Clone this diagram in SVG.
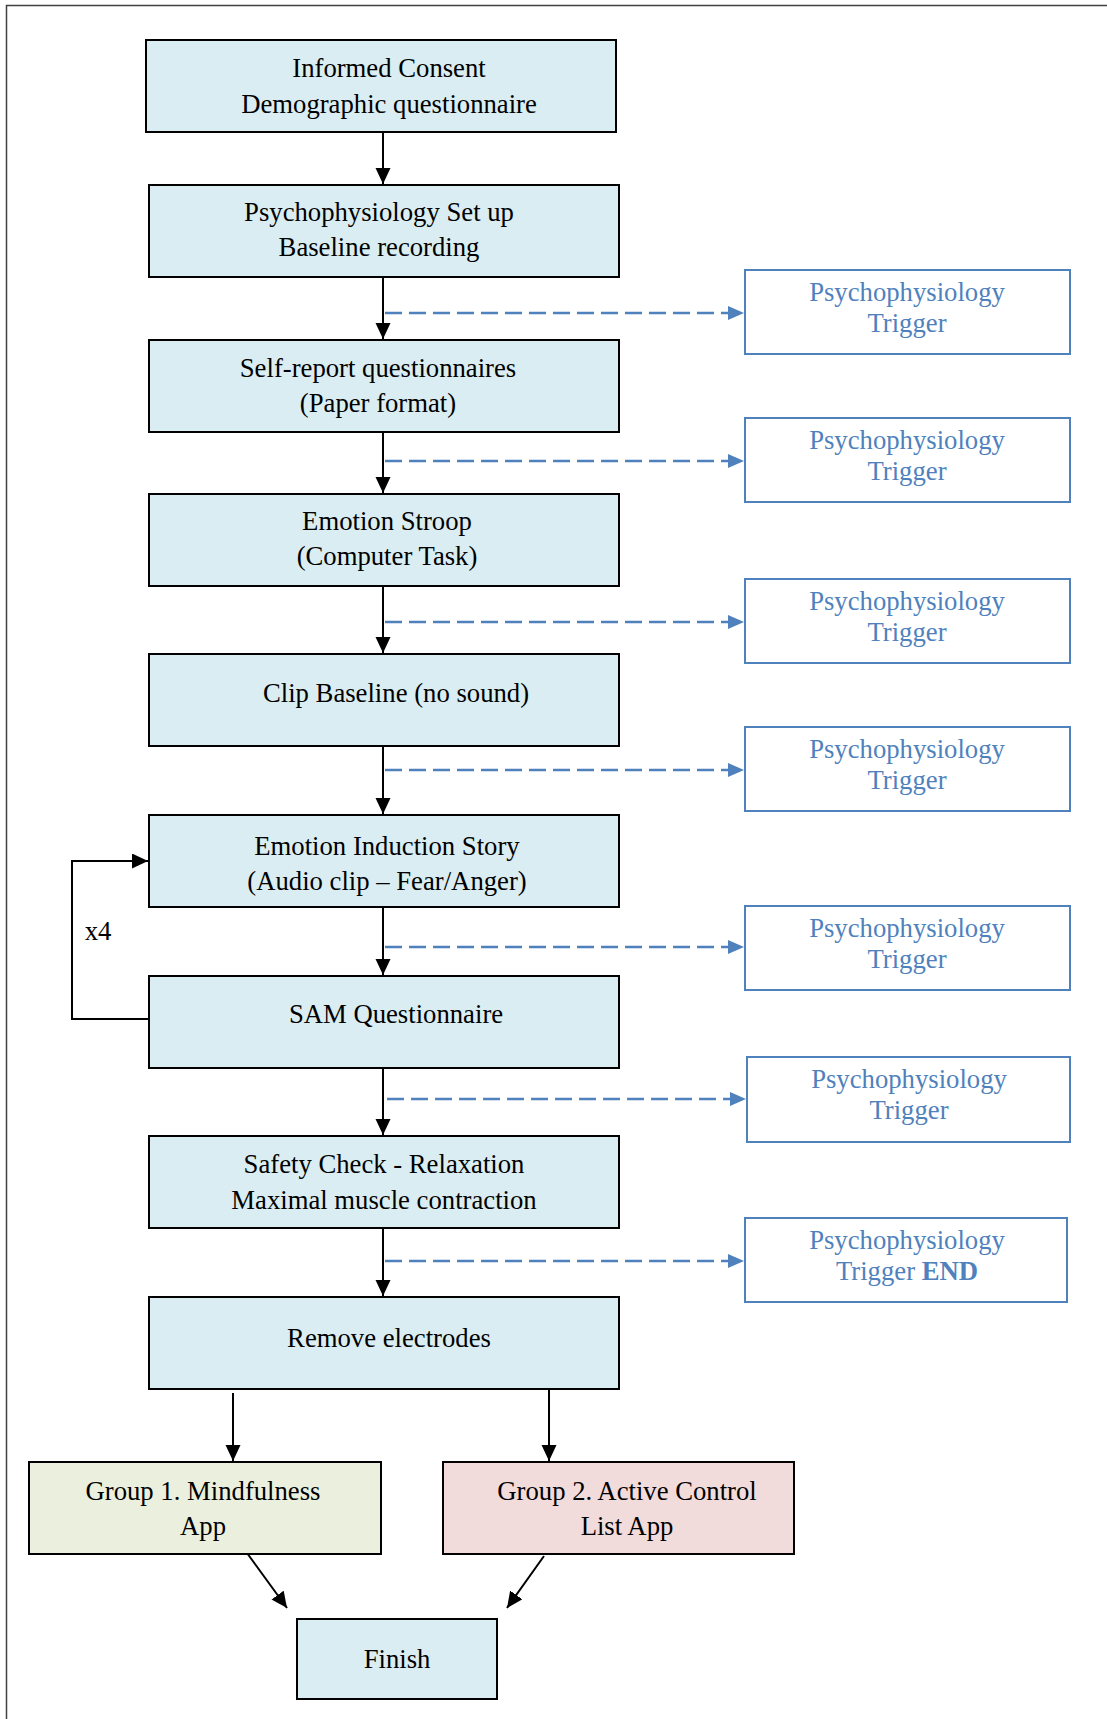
<svg xmlns="http://www.w3.org/2000/svg" width="1107" height="1719" viewBox="0 0 1107 1719">
<style>
.box{fill:#daedf2;stroke:#000;stroke-width:2}
.g1{fill:#ebf0de;stroke:#000;stroke-width:2}
.g2{fill:#f2dcdb;stroke:#000;stroke-width:2}
.trig{fill:#fff;stroke:#4f81bd;stroke-width:2}
text{font-family:"Liberation Serif","Times New Roman",serif;font-size:26.7px;text-anchor:middle;fill:#000}
.tt{fill:#4f81bd}
.conn{stroke:#000;stroke-width:2;fill:none}
.dash{stroke:#4f81bd;stroke-width:2.5;fill:none;stroke-dasharray:17 7}
</style>
<defs>
<marker id="ah" markerUnits="userSpaceOnUse" markerWidth="17" markerHeight="16" refX="16" refY="7.5" orient="auto">
<path d="M0,0 L16,7.5 L0,15 z" fill="#000"/>
</marker>
<marker id="bh" markerUnits="userSpaceOnUse" markerWidth="18" markerHeight="16" refX="16" refY="7" orient="auto">
<path d="M0,0 L16,7 L0,14 z" fill="#4f81bd"/>
</marker>
</defs>
<rect width="1107" height="1719" fill="#fff"/>
<path d="M6.5,1719 V5.5 H1107" fill="none" stroke="#404040" stroke-width="1.5"/>

<g id="connectors">
<line class="conn" x1="383" y1="132" x2="383" y2="184" marker-end="url(#ah)"/>
<line class="conn" x1="383" y1="277" x2="383" y2="339" marker-end="url(#ah)"/>
<line class="conn" x1="383" y1="432" x2="383" y2="493" marker-end="url(#ah)"/>
<line class="conn" x1="383" y1="586" x2="383" y2="653" marker-end="url(#ah)"/>
<line class="conn" x1="383" y1="746" x2="383" y2="814" marker-end="url(#ah)"/>
<line class="conn" x1="383" y1="907" x2="383" y2="975" marker-end="url(#ah)"/>
<line class="conn" x1="383" y1="1068" x2="383" y2="1135" marker-end="url(#ah)"/>
<line class="conn" x1="383" y1="1228" x2="383" y2="1296" marker-end="url(#ah)"/>
<polyline class="conn" points="149,1019 72,1019 72,861 148,861" marker-end="url(#ah)"/>
<line class="conn" x1="233" y1="1393" x2="233" y2="1461" marker-end="url(#ah)"/>
<line class="conn" x1="549" y1="1389" x2="549" y2="1461" marker-end="url(#ah)"/>
<line class="conn" x1="247" y1="1553" x2="287" y2="1608" marker-end="url(#ah)"/>
<line class="conn" x1="544" y1="1556" x2="507" y2="1608" marker-end="url(#ah)"/>
<line class="dash" x1="385" y1="313" x2="744" y2="313" marker-end="url(#bh)"/>
<line class="dash" x1="385" y1="461" x2="744" y2="461" marker-end="url(#bh)"/>
<line class="dash" x1="385" y1="622" x2="744" y2="622" marker-end="url(#bh)"/>
<line class="dash" x1="385" y1="770" x2="744" y2="770" marker-end="url(#bh)"/>
<line class="dash" x1="385" y1="947" x2="744" y2="947" marker-end="url(#bh)"/>
<line class="dash" x1="387" y1="1099" x2="746" y2="1099" marker-end="url(#bh)"/>
<line class="dash" x1="385" y1="1261" x2="744" y2="1261" marker-end="url(#bh)"/>
<text x="98" y="940">x4</text>
</g>

<g id="n1"><rect class="box" x="146" y="40" width="470" height="92"/>
<text x="389" y="77">Informed Consent</text><text x="389" y="113">Demographic questionnaire</text></g>
<g id="n2"><rect class="box" x="149" y="185" width="470" height="92"/>
<text x="379" y="221">Psychophysiology Set up</text><text x="379" y="256">Baseline recording</text></g>
<g id="n3"><rect class="box" x="149" y="340" width="470" height="92"/>
<text x="378" y="377">Self-report questionnaires</text><text x="378" y="412">(Paper format)</text></g>
<g id="n4"><rect class="box" x="149" y="494" width="470" height="92"/>
<text x="387" y="530">Emotion Stroop</text><text x="387" y="565">(Computer Task)</text></g>
<g id="n5"><rect class="box" x="149" y="654" width="470" height="92"/>
<text x="396" y="702">Clip Baseline (no sound)</text></g>
<g id="n6"><rect class="box" x="149" y="815" width="470" height="92"/>
<text x="387" y="855">Emotion Induction Story</text><text x="387" y="890">(Audio clip – Fear/Anger)</text></g>
<g id="n7"><rect class="box" x="149" y="976" width="470" height="92"/>
<text x="396" y="1023">SAM Questionnaire</text></g>
<g id="n8"><rect class="box" x="149" y="1136" width="470" height="92"/>
<text x="384" y="1173">Safety Check - Relaxation</text><text x="384" y="1209">Maximal muscle contraction</text></g>
<g id="n9"><rect class="box" x="149" y="1297" width="470" height="92"/>
<text x="389" y="1347">Remove electrodes</text></g>
<g id="g1"><rect class="g1" x="29" y="1462" width="352" height="92"/>
<text x="203" y="1500">Group 1. Mindfulness</text><text x="203" y="1535">App</text></g>
<g id="g2"><rect class="g2" x="443" y="1462" width="351" height="92"/>
<text x="627" y="1500">Group 2. Active Control</text><text x="627" y="1535">List App</text></g>
<g id="finish"><rect class="box" x="297" y="1619" width="200" height="80"/>
<text x="397" y="1668">Finish</text></g>

<g id="t1"><rect class="trig" x="745" y="270" width="325" height="84"/>
<text class="tt" x="907" y="301">Psychophysiology</text><text class="tt" x="907" y="332">Trigger</text></g>
<g id="t2"><rect class="trig" x="745" y="418" width="325" height="84"/>
<text class="tt" x="907" y="449">Psychophysiology</text><text class="tt" x="907" y="480">Trigger</text></g>
<g id="t3"><rect class="trig" x="745" y="579" width="325" height="84"/>
<text class="tt" x="907" y="610">Psychophysiology</text><text class="tt" x="907" y="641">Trigger</text></g>
<g id="t4"><rect class="trig" x="745" y="727" width="325" height="84"/>
<text class="tt" x="907" y="758">Psychophysiology</text><text class="tt" x="907" y="789">Trigger</text></g>
<g id="t5"><rect class="trig" x="745" y="906" width="325" height="84"/>
<text class="tt" x="907" y="937">Psychophysiology</text><text class="tt" x="907" y="968">Trigger</text></g>
<g id="t6"><rect class="trig" x="747" y="1057" width="323" height="85"/>
<text class="tt" x="909" y="1088">Psychophysiology</text><text class="tt" x="909" y="1119">Trigger</text></g>
<g id="t7"><rect class="trig" x="745" y="1218" width="322" height="84"/>
<text class="tt" x="907" y="1249">Psychophysiology</text><text class="tt" x="907" y="1280">Trigger <tspan font-weight="bold">END</tspan></text></g>
</svg>
